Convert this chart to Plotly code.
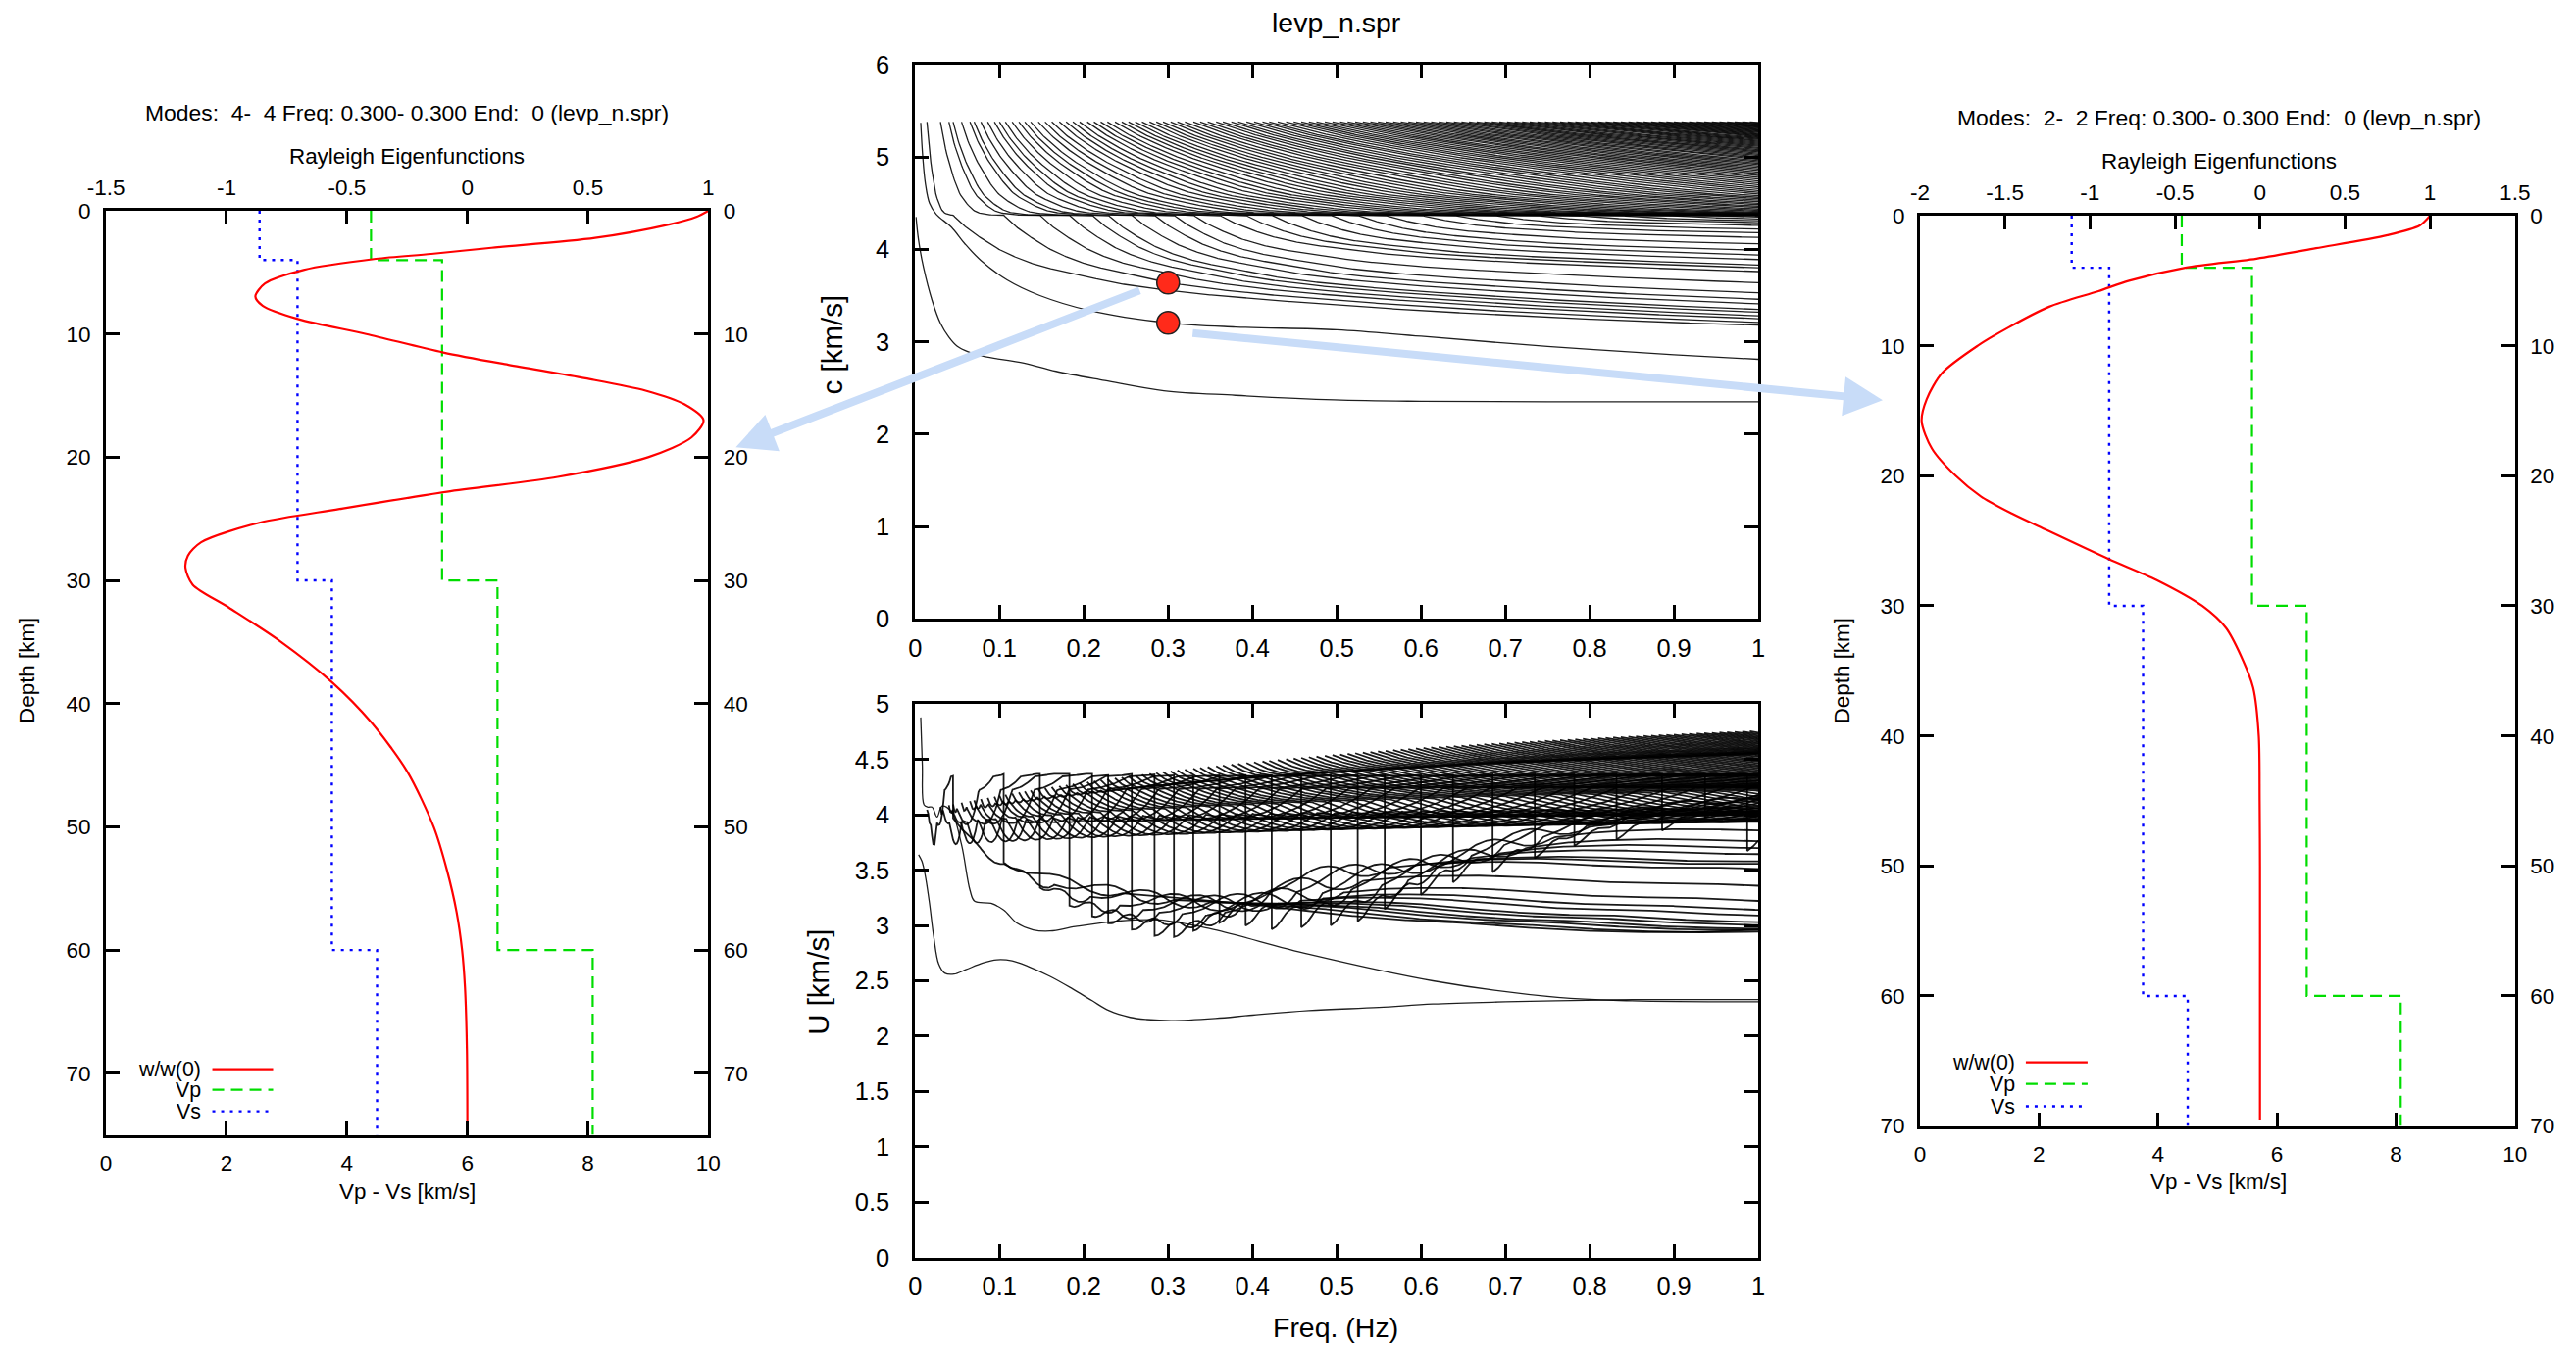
import numpy as np
import plotly.graph_objects as go

W, H = 2627, 1372
FONT = "Liberation Sans, Arial, sans-serif"

# ---------------- velocity model (read from the step profiles) ----------------
layer_top = [0, 4, 30, 60]
vs_layer = [2.55, 3.18, 3.75, 4.50]
vp_layer = [4.40, 5.58, 6.50, 8.08]

# ---------------- eigenfunctions w/w(0) ----------------
ef4_depth = [0, 0.5, 1.1, 2.2, 3.0, 3.5, 3.9, 4.8, 5.9, 6.95, 7.7, 8.8, 10, 11.5, 12.5, 13.6,
             14.6, 15.7, 17.0, 18.4, 20, 21.6, 22.8, 24.2, 25.3, 26.9, 28, 29, 30.35, 32.2,
             34.9, 38.3, 41.5, 45.5, 50, 53.5, 56.9, 60, 63, 68, 75]
ef4_w = [1.0, 0.95, 0.84, 0.53, 0.1, -0.15, -0.38, -0.68, -0.84, -0.88, -0.85, -0.70, -0.42,
         -0.10, 0.17, 0.49, 0.74, 0.90, 0.98, 0.93, 0.75, 0.375, -0.085, -0.53, -0.86, -1.105,
         -1.16, -1.17, -1.14, -0.99, -0.78, -0.56, -0.40, -0.25, -0.14, -0.085, -0.045, -0.022,
         -0.010, -0.002, 0.0]
ef2_depth = [0, 0.75, 1.5, 2.5, 3.3, 4.0, 5.0, 5.8, 7.0, 8.6, 10, 12.1, 14.1, 15.8, 17.9, 20,
             21.6, 22.9, 24.2, 26.4, 28, 30, 31.7, 33.9, 36.3, 40, 45, 50, 60, 69.5]
ef2_w = [1.0, 0.94, 0.75, 0.33, -0.02, -0.44, -0.77, -0.95, -1.24, -1.48, -1.66, -1.87, -1.96,
         -1.99, -1.93, -1.79, -1.64, -1.46, -1.25, -0.89, -0.61, -0.34, -0.20, -0.11, -0.04,
         -0.007, -0.002, 0.0, 0.0, 0.0]

# ---------------- dispersion: fundamental and first overtone ----------------
fund_f = [0.001, 0.004, 0.010, 0.020, 0.030, 0.040, 0.050, 0.063, 0.082, 0.129, 0.167, 0.225,
          0.295, 0.38, 0.497, 0.6, 0.75, 1.0]
fund_c = [4.35, 4.10, 3.80, 3.45, 3.20, 3.05, 2.95, 2.89, 2.84, 2.77, 2.68, 2.58, 2.47, 2.42,
          2.37, 2.355, 2.35, 2.35]
fund_uf = [0.004, 0.008, 0.012, 0.017, 0.022, 0.028, 0.035, 0.046, 0.06, 0.08, 0.097, 0.115,
           0.134, 0.16, 0.186, 0.21, 0.23, 0.255, 0.275, 0.304, 0.356, 0.4, 0.467, 0.55, 0.614,
           0.7, 0.76, 0.85, 1.0]
fund_u = [3.64, 3.58, 3.45, 3.20, 2.90, 2.65, 2.57, 2.56, 2.60, 2.66, 2.69, 2.68, 2.63, 2.54,
          2.43, 2.32, 2.23, 2.17, 2.15, 2.14, 2.16, 2.19, 2.23, 2.26, 2.29, 2.31, 2.32, 2.33, 2.33]

m2_f = [0.0066, 0.009, 0.012, 0.017, 0.025, 0.043, 0.059, 0.078, 0.109, 0.148, 0.206, 0.3,
        0.38, 0.5, 0.6, 0.75, 0.9, 1.0]
m2_c = [5.37, 5.0, 4.72, 4.5, 4.38, 4.24, 4.06, 3.88, 3.67, 3.5, 3.34, 3.205, 3.16, 3.13,
        3.06, 2.95, 2.86, 2.81]
m2_uf = [0.0066, 0.0085, 0.0105, 0.015, 0.020, 0.026, 0.032, 0.043, 0.055, 0.065, 0.0705,
         0.09, 0.105, 0.121, 0.14, 0.16, 0.19, 0.24, 0.29, 0.35, 0.467, 0.614, 0.762, 0.85, 1.0]
m2_u = [4.88, 4.45, 4.09, 4.07, 4.07, 3.98, 4.08, 4.03, 3.73, 3.32, 3.22, 3.20, 3.14, 3.02,
        2.96, 2.95, 2.99, 3.04, 3.05, 2.97, 2.74, 2.50, 2.35, 2.32, 2.31]

# ---------------- higher overtones (mode 3 upward) ----------------
top_c = 5.38          # upper edge of the phase-velocity window
plateau_c = 4.37      # velocity where the overtones pile up
cutoff_f = [0.014, 0.030, 0.040, 0.045, 0.055, 0.065, 0.070, 0.078, 0.086, 0.094,
            0.100, 0.107, 0.115, 0.123, 0.130, 0.137, 0.146, 0.154, 0.162, 0.171,
            0.179, 0.187, 0.195, 0.204, 0.212, 0.220, 0.228, 0.237, 0.245, 0.253,
            0.261, 0.269, 0.278, 0.286, 0.294, 0.303, 0.311, 0.320, 0.330, 0.338,
            0.347, 0.357, 0.365, 0.375, 0.383, 0.393, 0.402, 0.412, 0.420, 0.430,
            0.440, 0.449, 0.458, 0.467, 0.476, 0.486, 0.495, 0.504, 0.513, 0.522,
            0.531, 0.540, 0.549, 0.558, 0.567, 0.576, 0.585, 0.594, 0.603, 0.612,
            0.621, 0.630, 0.639, 0.648, 0.657, 0.666, 0.675, 0.684, 0.693, 0.702,
            0.711, 0.720, 0.729, 0.738, 0.747, 0.756, 0.765, 0.774, 0.783, 0.792,
            0.801, 0.810, 0.819, 0.828, 0.837, 0.846, 0.855, 0.864, 0.873, 0.882,
            0.891, 0.900, 0.909, 0.918, 0.927, 0.936, 0.945, 0.954, 0.963, 0.972,
            0.981, 0.990]
depart_f = [0.045, 0.105, 0.148, 0.183, 0.210, 0.229, 0.257, 0.284, 0.307, 0.330,
            0.361, 0.392, 0.423, 0.458, 0.493, 0.525, 0.557, 0.600, 0.638, 0.685,
            0.735, 0.782, 0.832, 0.886, 0.937, 0.987]
end_c = [3.18, 3.21, 3.25, 3.28, 3.32, 3.35, 3.41, 3.46, 3.53, 3.64,
         3.76, 3.80, 3.83, 3.89, 3.94, 3.99, 4.06, 4.13, 4.18, 4.22,
         4.26, 4.29, 4.31, 4.33, 4.35, 4.36]
# how wide (relative to its cutoff) the descent of a mode from the window top is
ratio_f = [0.0, 0.1, 0.3, 0.6, 1.0]
ratio_r = [2.4, 2.8, 3.6, 4.8, 6.2]
upper_u = [0, 0.04, 0.14, 0.33, 0.6, 0.83, 1.0]
upper_p = [1.0, 0.84, 0.55, 0.20, 0.026, 0.002, 0.0]
lower_df = [0, 0.014, 0.03, 0.06, 0.10, 0.15, 0.20, 0.28, 0.40, 0.6, 0.9, 1.0]
lower_q = [0, 0.10, 0.19, 0.33, 0.45, 0.54, 0.62, 0.70, 0.78, 0.88, 0.98, 1.0]

dot_f = [0.3, 0.3]
dot_c = [3.64, 3.205]


def pchip(xk, yk, x):
    xk = np.asarray(xk, float)
    yk = np.asarray(yk, float)
    x = np.asarray(x, float)
    h = np.diff(xk)
    d = np.diff(yk) / h
    n = len(xk)
    m = np.zeros(n)
    for i in range(1, n - 1):
        if d[i - 1] * d[i] > 0:
            w1 = 2 * h[i] + h[i - 1]
            w2 = h[i] + 2 * h[i - 1]
            m[i] = (w1 + w2) / (w1 / d[i - 1] + w2 / d[i])

    def endslope(h0, h1, d0, d1):
        mm = ((2 * h0 + h1) * d0 - h0 * d1) / (h0 + h1)
        if np.sign(mm) != np.sign(d0):
            mm = 0.0
        elif np.sign(d0) != np.sign(d1) and abs(mm) > abs(3 * d0):
            mm = 3 * d0
        return mm

    m[0] = endslope(h[0], h[1], d[0], d[1])
    m[-1] = endslope(h[-1], h[-2], d[-1], d[-2])
    xc = np.clip(x, xk[0], xk[-1])
    i = np.clip(np.searchsorted(xk, xc) - 1, 0, n - 2)
    t = (xc - xk[i]) / h[i]
    y = ((2 * t**3 - 3 * t**2 + 1) * yk[i] + (t**3 - 2 * t**2 + t) * h[i] * m[i]
         + (-2 * t**3 + 3 * t**2) * yk[i + 1] + (t**3 - t**2) * h[i] * m[i + 1])
    dy = ((6 * t**2 - 6 * t) * yk[i] + (3 * t**2 - 4 * t + 1) * h[i] * m[i]
          + (-6 * t**2 + 6 * t) * yk[i + 1] + (3 * t**2 - 2 * t) * h[i] * m[i + 1]) / h[i]
    outside = (x < xk[0]) | (x > xk[-1])
    dy = np.where(outside, 0.0, dy)
    return y, dy


fam_cx, fam_cy, fam_ux, fam_uy = [], [], [], []
for k, fc in enumerate(cutoff_f):
    npts = max(int((1.0 - fc) / 0.0015) + 2, 3)
    f = np.linspace(fc, 1.0, npts)
    if k < len(depart_f):
        f = np.unique(np.concatenate([f, [depart_f[k] - 1e-4, depart_f[k]]]))
    w = float(np.interp(fc, ratio_f, ratio_r)) * fc
    p, dp = pchip(upper_u, upper_p, (f - fc) / w)
    c = plateau_c + (top_c - plateau_c) * p
    dc = (top_c - plateau_c) * dp / w
    if k < len(depart_f):
        fd = depart_f[k]
        qend, _ = pchip(lower_df, lower_q, [1.0 - fd])
        D = (c[-1] - end_c[k]) / qend[0]
        msk = f >= fd
        q, dq = pchip(lower_df, lower_q, f[msk] - fd)
        c[msk] = c[msk] - D * q
        dc[msk] = dc[msk] - D * dq
    U = c / (1.0 - (f / c) * dc)
    fam_cx += list(f) + [None]
    fam_cy += list(c) + [None]
    fam_ux += list(f) + [None]
    fam_uy += list(U) + [None]

# page placement (pixel positions of the reference, corrected for the capture scaling)
SX, OX, SY, OY = 0.987, 16.4, 0.979, 13.1


def px(x):
    return ((x - OX) / SX) / W


def py(y):
    return 1 - ((y - OY) / SY) / H


FS = 1.0 / 0.983  # font compensation

fig = go.Figure()
BLK = dict(color="rgba(0,0,0,0.88)", width=1.3)
BLKU = dict(color="rgba(0,0,0,0.9)", width=1.8)

# ----- middle: phase velocity -----
fig.add_trace(go.Scatter(x=fam_cx, y=fam_cy, mode="lines", line=BLK, xaxis="x3", yaxis="y3",
                         hoverinfo="skip"))
fig.add_trace(go.Scatter(x=fund_f, y=fund_c, mode="lines", line=dict(BLK, shape="spline"),
                         xaxis="x3", yaxis="y3"))
fig.add_trace(go.Scatter(x=m2_f, y=m2_c, mode="lines", line=dict(BLK, shape="spline"),
                         xaxis="x3", yaxis="y3"))
fig.add_trace(go.Scatter(x=dot_f, y=dot_c, mode="markers", xaxis="x3", yaxis="y3",
                         marker=dict(size=23, color="#ff2a1a", line=dict(color="#222", width=1.5))))

# ----- middle: group velocity -----
fig.add_trace(go.Scatter(x=fam_ux, y=fam_uy, mode="lines", line=BLKU, xaxis="x4", yaxis="y4",
                         hoverinfo="skip"))
fig.add_trace(go.Scatter(x=fund_uf, y=fund_u, mode="lines", line=dict(BLK, shape="spline"),
                         xaxis="x4", yaxis="y4"))
fig.add_trace(go.Scatter(x=m2_uf, y=m2_u, mode="lines", line=dict(BLK, shape="spline"),
                         xaxis="x4", yaxis="y4"))

# ----- side panels -----
RED = dict(color="#ff0000", width=2.2, shape="spline", smoothing=0.8)
GRN = dict(color="#00dd00", width=2.2, dash="12px,7px")
BLU = dict(color="#0000ff", width=2.4, dash="3px,6px")


def steps(vals, bottom):
    return list(vals) + [vals[-1]], list(layer_top) + [bottom]


vpx, vpy = steps(vp_layer, 75)
vsx, vsy = steps(vs_layer, 75)
fig.add_trace(go.Scatter(x=vpx, y=vpy, mode="lines", line=dict(GRN, shape="vh"), xaxis="x", yaxis="y"))
fig.add_trace(go.Scatter(x=vsx, y=vsy, mode="lines", line=dict(BLU, shape="vh"), xaxis="x", yaxis="y2"))
fig.add_trace(go.Scatter(x=ef4_w, y=ef4_depth, mode="lines", line=RED, xaxis="x2", yaxis="y"))

vpx, vpy = steps(vp_layer, 70)
vsx, vsy = steps(vs_layer, 70)
fig.add_trace(go.Scatter(x=vpx, y=vpy, mode="lines", line=dict(GRN, shape="vh"), xaxis="x5", yaxis="y5"))
fig.add_trace(go.Scatter(x=vsx, y=vsy, mode="lines", line=dict(BLU, shape="vh"), xaxis="x5", yaxis="y6"))
fig.add_trace(go.Scatter(x=ef2_w, y=ef2_depth, mode="lines", line=RED, xaxis="x6", yaxis="y5"))

side_font = dict(size=22.5 * FS / 1.017, color="black", family=FONT)
mid_font = dict(size=25 * FS, color="black", family=FONT)


def ax(**kw):
    d = dict(showgrid=False, zeroline=False, showline=True, linecolor="black", linewidth=3,
             ticks="inside", ticklen=14, tickwidth=2.5, tickcolor="black",
             tickfont=side_font, fixedrange=True)
    d.update(kw)
    return d


depth_ticks = [0, 10, 20, 30, 40, 50, 60, 70]

layout = dict(
    width=W, height=H, margin=dict(l=0, r=0, t=0, b=0), autosize=False,
    paper_bgcolor="white", plot_bgcolor="white", showlegend=False,
    font=dict(family=FONT, color="black"),
    # left panel
    xaxis=ax(domain=[px(105.5), px(720)], anchor="y", range=[0, 10], tickvals=[0, 2, 4, 6, 8, 10],
             side="bottom", ticklabelstandoff=6),
    xaxis2=ax(overlaying="x", anchor="y", side="top", range=[-1.5, 1],
              tickvals=[-1.5, -1, -0.5, 0, 0.5, 1], ticktext=["-1.5", "-1", "-0.5", "0", "0.5", "1"],
              ticklabelstandoff=4),
    yaxis=ax(domain=[py(1156), py(214)], anchor="x", range=[75, 0], tickvals=depth_ticks,
             ticklabelstandoff=8),
    yaxis2=ax(overlaying="y", anchor="x", side="right", range=[75, 0], tickvals=depth_ticks,
              ticklabelstandoff=8),
    # middle panels
    xaxis3=ax(domain=[px(931), px(1791)], anchor="y3", range=[0, 1], tick0=0, dtick=0.1,
              mirror="ticks", tickfont=mid_font, ticklabelstandoff=5),
    yaxis3=ax(domain=[py(630), py(65)], anchor="x3", range=[0, 6], tick0=0, dtick=1,
              mirror="ticks", tickfont=mid_font, ticklabelstandoff=18),
    xaxis4=ax(domain=[px(931), px(1791)], anchor="y4", range=[0, 1], tick0=0, dtick=0.1,
              mirror="ticks", tickfont=mid_font, ticklabelstandoff=5),
    yaxis4=ax(domain=[py(1281), py(717)], anchor="x4", range=[0, 5], tick0=0, dtick=0.5,
              mirror="ticks", tickfont=mid_font, ticklabelstandoff=18),
    # right panel
    xaxis5=ax(domain=[px(1956), px(2563)], anchor="y5", range=[0, 10], tickvals=[0, 2, 4, 6, 8, 10],
              side="bottom", ticklabelstandoff=6),
    xaxis6=ax(overlaying="x5", anchor="y5", side="top", range=[-2, 1.5],
              tickvals=[-2, -1.5, -1, -0.5, 0, 0.5, 1, 1.5],
              ticktext=["-2", "-1.5", "-1", "-0.5", "0", "0.5", "1", "1.5"], ticklabelstandoff=4),
    yaxis5=ax(domain=[py(1147), py(219)], anchor="x5", range=[70, 0], tickvals=depth_ticks,
              ticklabelstandoff=8),
    yaxis6=ax(overlaying="y5", anchor="x5", side="right", range=[70, 0], tickvals=depth_ticks,
              ticklabelstandoff=8),
)
fig.update_layout(**layout)

NB = "\u00a0"
ann = []


def text(x, y, s, size=22, angle=0, xanchor="center"):
    ann.append(dict(x=px(x), y=py(y), xref="paper", yref="paper", text=s, showarrow=False,
                    textangle=angle, xanchor=xanchor, yanchor="middle",
                    font=dict(size=size * FS, color="black", family=FONT)))


text(1360, 22, "levp_n.spr", 28)
text(846, 350, "c [km/s]", 29, -90)
text(832, 1000, "U [km/s]", 29, -90)
text(1360, 1352, "Freq. (Hz)", 28)

text(413, 114, f"Modes:{NB}{NB}4-{NB}{NB}4 Freq: 0.300- 0.300 End:{NB}{NB}0 (levp_n.spr)", 22.5)
text(413, 159, "Rayleigh Eigenfunctions", 22)
text(413, 1214, "Vp - Vs [km/s]", 22)
text(25, 683, "Depth [km]", 22, -90)

text(2261, 119, f"Modes:{NB}{NB}2-{NB}{NB}2 Freq: 0.300- 0.300 End:{NB}{NB}0 (levp_n.spr)", 22.5)
text(2261, 164, "Rayleigh Eigenfunctions", 22)
text(2261, 1204, "Vp - Vs [km/s]", 22)
text(1876, 683, "Depth [km]", 22, -90)

# legends (drawn by hand, gnuplot style: label on the left, sample on the right)
shapes = []
for (tx, lx0, lx1, rows) in [(204, 214, 276, [1089, 1110, 1132]), (2055, 2064, 2127, [1082, 1104, 1127])]:
    for lab, sty, yy in zip(["w/w(0)", "Vp", "Vs"], [RED, GRN, BLU], rows):
        text(tx, yy, lab, 21, 0, "right")
        ldict = dict(color=sty["color"], width=sty["width"])
        if "dash" in sty:
            ldict["dash"] = sty["dash"]
        shapes.append(dict(type="line", xref="paper", yref="paper", x0=px(lx0), x1=px(lx1),
                           y0=py(yy), y1=py(yy), line=ldict))

# arrows linking the red dots to the eigenfunction panels
ARC = "#c8dcf8"
for tip, tail in [((748, 455), (1156, 298)), ((1918, 407), (1222, 340))]:
    ann.append(dict(x=px(tip[0]), y=py(tip[1]), xref="paper", yref="paper", text="",
                    showarrow=True, arrowhead=2, arrowsize=1.0, arrowwidth=8, arrowcolor=ARC,
                    ax=(tail[0] - tip[0]) / SX, ay=(tail[1] - tip[1]) / SY,
                    axref="pixel", ayref="pixel", standoff=0))

fig.update_layout(annotations=ann, shapes=shapes)
fig.write_html("out.html", config={"displayModeBar": False})
